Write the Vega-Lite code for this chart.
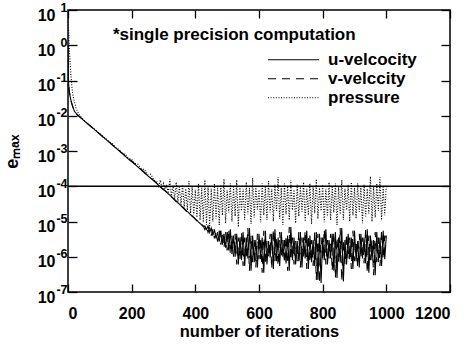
{
"$schema":"https://vega.github.io/schema/vega-lite/v6.json",
"width":382,"height":282,
"autosize":{"type":"none"},
"padding":{"left":68,"top":10,"right":23,"bottom":52},
"background":"white",
"config":{"view":{"stroke":"#000","strokeWidth":1.5},"font":"Liberation Sans",
 "axis":{"domain":false,"grid":false,"tickColor":"#000","tickWidth":1.3,"labelColor":"#000","titleColor":"#000","labelFont":"Liberation Sans","labelFontWeight":"bold","labelFontSize":16,"titleFont":"Liberation Sans","titleFontWeight":"bold"}},
"layer":[
{"data":{"values":[
{"i":0,"u":1.0,"v":1.0,"p":9},
{"i":1,"u":0.12,"v":0.13,"p":4},
{"i":2,"u":0.08,"v":0.085,"p":2.5},
{"i":3,"u":0.06,"v":0.062,"p":1.5},
{"i":4,"u":0.05,"v":0.05,"p":0.9},
{"i":6,"u":0.038,"v":0.038,"p":0.4},
{"i":9,"u":0.028,"v":0.028,"p":0.15},
{"i":12,"u":0.022,"v":0.022,"p":0.07},
{"i":15,"u":0.018,"v":0.018,"p":0.04},
{"i":20,"u":0.0135,"v":0.0135,"p":0.025},
{"i":25,"u":0.0118,"v":0.0118,"p":0.017},
{"i":30,"u":0.0105,"v":0.0105,"p":0.013},
{"i":35,"u":0.0095,"v":0.0096,"p":0.011},
{"i":40,"u":0.0088,"v":0.0088,"p":0.0095},
{"i":50,"u":0.0073,"v":0.0074,"p":0.0075},
{"i":60,"u":0.0061,"v":0.0061,"p":0.0062},
{"i":70,"u":0.0051,"v":0.0052,"p":0.0052},
{"i":80,"u":0.0043,"v":0.0043,"p":0.0044},
{"i":90,"u":0.0036,"v":0.0036,"p":0.0037},
{"i":100,"u":0.0030,"v":0.0030,"p":0.0031},
{"i":110,"u":0.0025,"v":0.0025,"p":0.0026},
{"i":120,"u":0.0021,"v":0.0021,"p":0.0022},
{"i":130,"u":0.00175,"v":0.00178,"p":0.0018},
{"i":140,"u":0.00146,"v":0.00146,"p":0.0016},
{"i":150,"u":0.00122,"v":0.00124,"p":0.00125},
{"i":160,"u":0.00102,"v":0.00104,"p":0.0011},
{"i":170,"u":0.00085,"v":0.00087,"p":0.00088},
{"i":180,"u":0.00071,"v":0.00073,"p":0.0008},
{"i":190,"u":0.00059,"v":0.0006,"p":0.00062},
{"i":200,"u":0.0005,"v":0.00052,"p":0.00058},
{"i":210,"u":0.00042,"v":0.00043,"p":0.00044},
{"i":220,"u":0.00035,"v":0.00037,"p":0.00042},
{"i":230,"u":0.00029,"v":0.0003,"p":0.00031},
{"i":240,"u":0.00024,"v":0.00025,"p":0.0003},
{"i":250,"u":0.0002,"v":0.00021,"p":0.00021},
{"i":260,"u":0.00017,"v":0.00017,"p":0.00022},
{"i":270,"u":0.00014,"v":0.000145,"p":0.00015},
{"i":280,"u":0.000118,"v":0.00012,"p":0.00013},
{"i":285,"u":0.000105,"v":0.000108,"p":0.0001},
{"i":290,"u":9.5e-5,"v":9.6e-5,"p":1.5e-4},
{"i":295,"u":8.8e-5,"v":8.6e-5,"p":9.0e-5},
{"i":300,"u":8.3e-5,"v":8.0e-5,"p":1.2e-4},
{"i":305,"u":7.4e-5,"v":7.5e-5,"p":7.6e-5},
{"i":310,"u":6.8e-5,"v":6.7e-5,"p":1.1e-4},
{"i":315,"u":6.1e-5,"v":6.2e-5,"p":6.3e-5},
{"i":320,"u":5.6e-5,"v":5.5e-5,"p":1.6e-4},
{"i":325,"u":5.1e-5,"v":5.0e-5,"p":5.3e-5},
{"i":330,"u":4.5e-5,"v":4.6e-5,"p":1.0e-4},
{"i":335,"u":4.2e-5,"v":4.1e-5,"p":4.4e-5},
{"i":340,"u":3.8e-5,"v":3.7e-5,"p":1.3e-4},
{"i":345,"u":3.4e-5,"v":3.4e-5,"p":3.6e-5},
{"i":350,"u":3.1e-5,"v":3.0e-5,"p":9.5e-5},
{"i":355,"u":2.8e-5,"v":2.8e-5,"p":3.0e-5},
{"i":360,"u":2.6e-5,"v":2.5e-5,"p":1.1e-4},
{"i":365,"u":2.3e-5,"v":2.3e-5,"p":2.5e-5},
{"i":370,"u":2.1e-5,"v":2.0e-5,"p":8.5e-5},
{"i":375,"u":1.9e-5,"v":1.9e-5,"p":2.1e-5},
{"i":380,"u":1.75e-5,"v":1.7e-5,"p":1.4e-4},
{"i":385,"u":1.55e-5,"v":1.6e-5,"p":1.7e-5},
{"i":390,"u":1.45e-5,"v":1.4e-5,"p":1.0e-4},
{"i":395,"u":1.3e-5,"v":1.3e-5,"p":1.5e-5},
{"i":400,"u":1.18e-5,"v":1.15e-5,"p":8.0e-5},
{"i":405,"u":1.08e-5,"v":1.05e-5,"p":1.3e-5},
{"i":410,"u":9.6e-6,"v":9.8e-6,"p":1.2e-4},
{"i":415,"u":8.8e-6,"v":8.6e-6,"p":1.1e-5},
{"i":420,"u":8.0e-6,"v":8.2e-6,"p":9.0e-5},
{"i":425,"u":7.2e-6,"v":7.5e-6,"p":9.5e-6},
{"i":430,"u":7.5e-6,"v":5.9e-6,"p":1.5e-4},
{"i":435,"u":5.9e-6,"v":7.5e-6,"p":8.0e-6},
{"i":440,"u":7.5e-6,"v":4.9e-6,"p":1.0e-4},
{"i":445,"u":4.9e-6,"v":6.5e-6,"p":7.0e-6},
{"i":450,"u":6.5e-6,"v":4.0e-6,"p":8.5e-5},
{"i":455,"u":4.0e-6,"v":6.0e-6,"p":1.0e-5},
{"i":460,"u":6.0e-6,"v":3.3e-6,"p":1.2e-4},
{"i":465,"u":3.3e-6,"v":5.0e-6,"p":1.2e-5},
{"i":470,"u":5.0e-6,"v":2.7e-6,"p":9.0e-5},
{"i":475,"u":2.7e-6,"v":5.5e-6,"p":8.0e-6},
{"i":480,"u":5.5e-6,"v":2.2e-6,"p":1.1e-4},
{"i":485,"u":2.2e-6,"v":4.5e-6,"p":1.5e-5},
{"i":490,"u":4.5e-6,"v":1.8e-6,"p":1.6e-4},
{"i":495,"u":1.8e-6,"v":5.0e-6,"p":9.0e-6},
{"i":500,"u":5.0e-6,"v":1.5e-6,"p":8.0e-5},
{"i":505,"u":1.5e-6,"v":6.0e-6,"p":1.8e-5},
{"i":510,"u":6.0e-6,"v":1.2e-6,"p":1.2e-4},
{"i":515,"u":1.2e-6,"v":4.0e-6,"p":1.0e-5},
{"i":520,"u":4.0e-6,"v":1.0e-6,"p":9.5e-5},
{"i":525,"u":1.0e-6,"v":4.5e-6,"p":1.4e-5},
{"i":530,"u":4.5e-6,"v":6.0e-7,"p":1.5e-4},
{"i":535,"u":6.0e-7,"v":3.5e-6,"p":7.0e-6},
{"i":540,"u":3.5e-6,"v":8.0e-7,"p":1.0e-4},
{"i":545,"u":8.0e-7,"v":5.0e-6,"p":2.0e-5},
{"i":550,"u":5.0e-6,"v":5.5e-7,"p":8.5e-5},
{"i":555,"u":5.5e-7,"v":3.5e-6,"p":1.1e-5},
{"i":560,"u":3.5e-6,"v":9.0e-7,"p":1.3e-4},
{"i":565,"u":9.0e-7,"v":6.5e-6,"p":1.6e-5},
{"i":570,"u":6.5e-6,"v":4.0e-7,"p":9.0e-5},
{"i":575,"u":4.0e-7,"v":4.0e-6,"p":8.5e-6},
{"i":580,"u":4.0e-6,"v":7.0e-7,"p":1.7e-4},
{"i":585,"u":7.0e-7,"v":3.0e-6,"p":1.3e-5},
{"i":590,"u":3.0e-6,"v":5.0e-7,"p":1.0e-4},
{"i":595,"u":5.0e-7,"v":4.5e-6,"p":2.2e-5},
{"i":600,"u":4.5e-6,"v":8.5e-7,"p":8.0e-5},
{"i":605,"u":8.5e-7,"v":3.5e-6,"p":9.5e-6},
{"i":610,"u":3.5e-6,"v":3.5e-7,"p":1.2e-4},
{"i":615,"u":3.5e-7,"v":5.5e-6,"p":1.5e-5},
{"i":620,"u":5.5e-6,"v":6.0e-7,"p":9.5e-5},
{"i":625,"u":6.0e-7,"v":2.8e-6,"p":1.1e-5},
{"i":630,"u":2.8e-6,"v":9.5e-7,"p":1.4e-4},
{"i":635,"u":9.5e-7,"v":4.5e-6,"p":1.8e-5},
{"i":640,"u":4.5e-6,"v":4.5e-7,"p":8.5e-5},
{"i":645,"u":4.5e-7,"v":6.0e-6,"p":1.0e-5},
{"i":650,"u":6.0e-6,"v":7.5e-7,"p":1.1e-4},
{"i":655,"u":7.5e-7,"v":3.5e-6,"p":2.0e-5},
{"i":660,"u":3.5e-6,"v":5.5e-7,"p":1.8e-4},
{"i":665,"u":5.5e-7,"v":5.0e-6,"p":1.2e-5},
{"i":670,"u":5.0e-6,"v":1.0e-6,"p":9.0e-5},
{"i":675,"u":1.0e-6,"v":3.0e-6,"p":8.0e-6},
{"i":680,"u":3.0e-6,"v":6.5e-7,"p":1.2e-4},
{"i":685,"u":6.5e-7,"v":4.0e-6,"p":1.6e-5},
{"i":690,"u":4.0e-6,"v":4.0e-7,"p":1.0e-4},
{"i":695,"u":4.0e-7,"v":7.0e-6,"p":1.1e-5},
{"i":700,"u":7.0e-6,"v":8.0e-7,"p":1.5e-4},
{"i":705,"u":8.0e-7,"v":3.5e-6,"p":2.1e-5},
{"i":710,"u":3.5e-6,"v":6.0e-7,"p":8.0e-5},
{"i":715,"u":6.0e-7,"v":2.8e-6,"p":9.0e-6},
{"i":720,"u":2.8e-6,"v":7.5e-7,"p":1.1e-4},
{"i":725,"u":7.5e-7,"v":5.0e-6,"p":1.4e-5},
{"i":730,"u":5.0e-6,"v":5.0e-7,"p":9.5e-5},
{"i":735,"u":5.0e-7,"v":3.5e-6,"p":1.9e-5},
{"i":740,"u":3.5e-6,"v":9.0e-7,"p":1.3e-4},
{"i":745,"u":9.0e-7,"v":5.5e-6,"p":1.0e-5},
{"i":750,"u":5.5e-6,"v":4.5e-7,"p":8.5e-5},
{"i":755,"u":4.5e-7,"v":4.0e-6,"p":1.5e-5},
{"i":760,"u":4.0e-6,"v":7.0e-7,"p":1.2e-4},
{"i":765,"u":7.0e-7,"v":3.0e-6,"p":8.5e-6},
{"i":770,"u":3.0e-6,"v":5.5e-7,"p":1.0e-4},
{"i":775,"u":5.5e-7,"v":5.0e-6,"p":1.7e-5},
{"i":780,"u":5.0e-6,"v":2.2e-7,"p":1.6e-4},
{"i":785,"u":2.2e-7,"v":4.5e-6,"p":1.2e-5},
{"i":790,"u":4.5e-6,"v":1.8e-7,"p":9.0e-5},
{"i":795,"u":1.8e-7,"v":3.5e-6,"p":2.0e-5},
{"i":800,"u":3.5e-6,"v":8.0e-7,"p":1.1e-4},
{"i":805,"u":8.0e-7,"v":6.0e-6,"p":9.5e-6},
{"i":810,"u":6.0e-6,"v":6.0e-7,"p":8.5e-5},
{"i":815,"u":6.0e-7,"v":3.0e-6,"p":1.4e-5},
{"i":820,"u":3.0e-6,"v":9.0e-7,"p":1.3e-4},
{"i":825,"u":9.0e-7,"v":4.5e-6,"p":1.1e-5},
{"i":830,"u":4.5e-6,"v":4.0e-7,"p":9.5e-5},
{"i":835,"u":4.0e-7,"v":5.0e-6,"p":1.8e-5},
{"i":840,"u":5.0e-6,"v":2.5e-7,"p":1.2e-4},
{"i":845,"u":2.5e-7,"v":3.5e-6,"p":8.0e-6},
{"i":850,"u":3.5e-6,"v":7.0e-7,"p":1.0e-4},
{"i":855,"u":7.0e-7,"v":6.5e-6,"p":1.6e-5},
{"i":860,"u":6.5e-6,"v":2.0e-7,"p":1.5e-4},
{"i":865,"u":2.0e-7,"v":3.0e-6,"p":1.1e-5},
{"i":870,"u":3.0e-6,"v":6.0e-7,"p":8.5e-5},
{"i":875,"u":6.0e-7,"v":4.5e-6,"p":2.1e-5},
{"i":880,"u":4.5e-6,"v":8.5e-7,"p":1.1e-4},
{"i":885,"u":8.5e-7,"v":3.5e-6,"p":1.0e-5},
{"i":890,"u":3.5e-6,"v":4.5e-7,"p":1.3e-4},
{"i":895,"u":4.5e-7,"v":5.5e-6,"p":1.5e-5},
{"i":900,"u":5.5e-6,"v":7.5e-7,"p":9.0e-5},
{"i":905,"u":7.5e-7,"v":2.8e-6,"p":1.2e-5},
{"i":910,"u":2.8e-6,"v":5.0e-7,"p":1.2e-4},
{"i":915,"u":5.0e-7,"v":4.5e-6,"p":1.9e-5},
{"i":920,"u":4.5e-6,"v":9.0e-7,"p":1.0e-4},
{"i":925,"u":9.0e-7,"v":3.5e-6,"p":9.0e-6},
{"i":930,"u":3.5e-6,"v":6.5e-7,"p":1.1e-4},
{"i":935,"u":6.5e-7,"v":6.0e-6,"p":1.4e-5},
{"i":940,"u":6.0e-6,"v":3.5e-7,"p":8.5e-5},
{"i":945,"u":3.5e-7,"v":4.0e-6,"p":1.7e-5},
{"i":950,"u":4.0e-6,"v":8.0e-7,"p":1.9e-4},
{"i":955,"u":8.0e-7,"v":3.0e-6,"p":1.0e-5},
{"i":960,"u":3.0e-6,"v":3.0e-7,"p":1.0e-4},
{"i":965,"u":3.0e-7,"v":5.0e-6,"p":1.3e-5},
{"i":970,"u":5.0e-6,"v":7.0e-7,"p":1.2e-4},
{"i":975,"u":7.0e-7,"v":3.5e-6,"p":2.0e-5},
{"i":980,"u":3.5e-6,"v":5.5e-7,"p":1.8e-4},
{"i":985,"u":5.5e-7,"v":5.5e-6,"p":1.1e-5},
{"i":990,"u":5.5e-6,"v":8.5e-7,"p":9.5e-5},
{"i":995,"u":8.5e-7,"v":4.0e-6,"p":1.5e-5},
{"i":1000,"u":4.0e-6,"v":3.0e-6,"p":1.1e-4}
]},
"transform":[{"fold":["u","v","p"],"as":["series","value"]}],
"mark":{"type":"line","color":"#000","strokeWidth":1.1,"clip":true},
"encoding":{
 "x":{"field":"i","type":"quantitative","scale":{"domain":[0,1200],"nice":false},
  "axis":{"values":[0,200,400,600,800,1000,1200],"format":"d","tickSize":-8,"labelPadding":21,"title":"number of iterations","titleFontSize":16.5,"titlePadding":2}},
 "y":{"field":"value","type":"quantitative","scale":{"type":"log","domain":[1e-7,10],"nice":false},
  "axis":{"values":[1e-7,1e-6,1e-5,1e-4,1e-3,1e-2,1e-1,1,10],"tickSize":-9,"labelPadding":22,"labelOffset":5,
   "labelExpr":"'10'",
   "title":"eₘₐₓ","titleFontSize":18,"titlePadding":16}},
 "strokeDash":{"field":"series","type":"nominal","scale":{"domain":["u","v","p"],"range":[[1,0],[8,6],[1,1.6]]},
  "legend":{"orient":"none","legendX":199,"legendY":41,"title":null,"symbolType":"stroke","symbolSize":2600,"symbolStrokeWidth":1.2,"symbolStrokeColor":"#000","labelFont":"Liberation Sans","labelFontWeight":"bold","labelFontSize":17,"labelColor":"#000","labelOffset":8,"rowPadding":0,"clipHeight":17.5,
   "labelExpr":"datum.label == 'u' ? 'u-velcocity' : datum.label == 'v' ? 'v-velccity' : 'pressure'"}}
}},
{"data":{"values":[{}]},
 "mark":{"type":"rule","color":"#000","strokeWidth":1.3},
 "encoding":{"y":{"datum":0.0001,"type":"quantitative","axis":{"orient":"left","values":[1e-7,1e-6,1e-5,1e-4,1e-3,1e-2,1e-1,1,10],"ticks":false,"labelPadding":1,"labelOffset":-3,"labelFontSize":12.5,"title":null,
   "labelExpr":"(round(log(datum.value)/LN10) < 0 ? '-' : '') + abs(round(log(datum.value)/LN10))"}}}},
{"data":{"values":[{}]},
 "mark":{"type":"text","text":"*single precision computation","align":"left","baseline":"alphabetic","fontSize":17,"fontWeight":"bold","font":"Liberation Sans","color":"#000"},
 "encoding":{
  "x":{"datum":141,"type":"quantitative","axis":{"orient":"top","values":[0,200,400,600,800,1000,1200],"tickSize":-8,"labels":false,"title":null}},
  "y":{"datum":1.4,"type":"quantitative","axis":{"orient":"right","values":[1e-7,1e-6,1e-5,1e-4,1e-3,1e-2,1e-1,1,10],"tickSize":-9,"labels":false,"title":null}}}}
],
"resolve":{"axis":{"x":"independent","y":"independent"}}
}
